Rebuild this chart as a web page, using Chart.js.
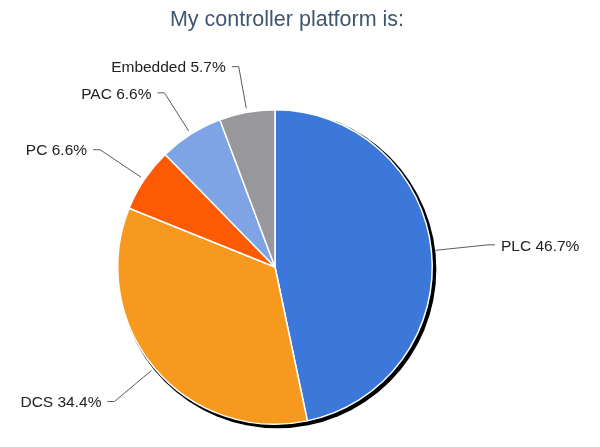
<!DOCTYPE html>
<html>
<head>
<meta charset="utf-8">
<script src="https://cdn.jsdelivr.net/npm/chart.js@4"></script>
<style>
  html, body { margin: 0; padding: 0; background: #fff; }
  #wrap { width: 600px; height: 447px; }
</style>
</head>
<body>
<div id="wrap"><canvas id="pieChart" width="600" height="447"></canvas></div>
<script>
// Datos
const categories = ['PLC', 'DCS', 'PC', 'PAC', 'Embedded'];
const shares     = [46.7, 34.4, 6.6, 6.6, 5.7];
const colors     = ['#3b78d9', '#f7981f', '#fe5a04', '#7ea4e6', '#98989c'];
const chartTitle = 'My controller platform is:';

const FONT = '"Liberation Sans", Arial, sans-serif';

// Título (centrado un poco a la derecha del pastel, como el original)
const titlePlugin = {
  id: 'titleText',
  afterDraw(chart) {
    const ctx = chart.ctx;
    ctx.save();
    ctx.font = '21.5px ' + FONT;
    ctx.fillStyle = '#3e5670';
    ctx.textAlign = 'center';
    ctx.textBaseline = 'middle';
    ctx.fillText(chartTitle, 287, 20);
    ctx.restore();
  }
};

// Sombra negra detrás del pastel
const pieShadow = {
  id: 'pieShadow',
  beforeDatasetsDraw(chart) {
    const arc = chart.getDatasetMeta(0).data[0];
    if (!arc) return;
    const { x, y, outerRadius } = arc.getProps(['x', 'y', 'outerRadius'], true);
    const ctx = chart.ctx;
    ctx.save();
    ctx.beginPath();
    ctx.arc(x + 2.3, y + 2.3, outerRadius + 1.8, 0, Math.PI * 2);
    ctx.fillStyle = '#000';
    ctx.fill();
    ctx.restore();
  }
};

// Etiquetas con líneas guía (codo sobre una elipse alrededor del pastel)
const leaderLabels = {
  id: 'leaderLabels',
  afterDatasetsDraw(chart) {
    const ctx = chart.ctx;
    const arcs = chart.getDatasetMeta(0).data;
    ctx.save();
    ctx.font = '15.5px ' + FONT;
    ctx.textBaseline = 'middle';
    arcs.forEach((arc, i) => {
      const { x, y, startAngle, endAngle, outerRadius } =
        arc.getProps(['x', 'y', 'startAngle', 'endAngle', 'outerRadius'], true);
      const mid = (startAngle + endAngle) / 2;
      const cos = Math.cos(mid), sin = Math.sin(mid);
      const rx = outerRadius + 57, ry = outerRadius + 46;
      const rho = 1 / Math.sqrt((cos * cos) / (rx * rx) + (sin * sin) / (ry * ry));
      const sx = x + cos * (outerRadius + 4), sy = y + sin * (outerRadius + 4);
      const ex = x + cos * rho, ey = y + sin * rho;
      const right = cos >= 0;
      const tx = ex + (right ? 7 : -7);

      ctx.strokeStyle = '#5a5a5a';
      ctx.lineWidth = 1;
      ctx.beginPath();
      ctx.moveTo(sx, sy);
      ctx.lineTo(ex, ey);
      ctx.lineTo(tx, ey);
      ctx.stroke();

      ctx.fillStyle = '#222';
      ctx.textAlign = right ? 'left' : 'right';
      ctx.fillText(categories[i] + ' ' + shares[i].toFixed(1) + '%', tx + (right ? 6 : -6), ey + 1.5);
    });
    ctx.restore();
  }
};

new Chart(document.getElementById('pieChart'), {
  type: 'pie',
  data: {
    labels: categories,
    datasets: [{
      data: shares,
      backgroundColor: colors,
      borderColor: '#fff',
      borderWidth: 1.5
    }]
  },
  options: {
    responsive: false,
    animation: false,
    layout: { padding: { left: 117, right: 167, top: 109, bottom: 22 } },
    plugins: {
      legend: { display: false },
      tooltip: { enabled: false },
      title: { display: false }
    }
  },
  plugins: [pieShadow, leaderLabels, titlePlugin]
});
</script>
</body>
</html>
